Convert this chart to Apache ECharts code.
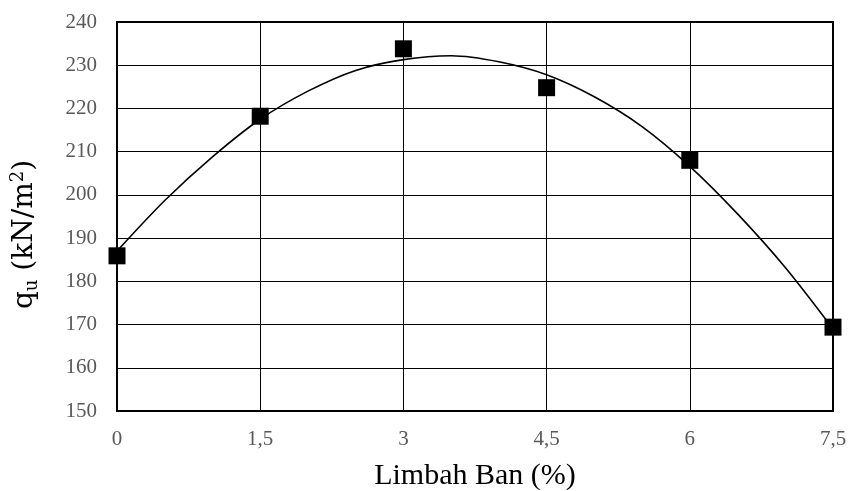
<!DOCTYPE html>
<html>
<head>
<meta charset="utf-8">
<script src="https://cdn.jsdelivr.net/npm/echarts@6/dist/echarts.min.js"></script>
<style>html,body{margin:0;padding:0;background:#fff}#c{width:848px;height:491px}</style>
</head>
<body>
<div id="c"></div>
<script>
// Measured points
const xValues = [0, 1.5, 3, 4.5, 6, 7.5];
const qValues = [185.9, 218.2, 233.8, 224.8, 208.0, 169.4];
// Trendline
const trendX = [0, 0.5, 1, 1.5, 2, 2.5, 3, 3.5, 4, 4.5, 5, 5.5, 6, 6.5, 7, 7.5];
const trendY = [187.0, 198.7, 208.8, 217.5, 224.0, 228.8, 231.3, 232.2, 230.8, 227.8, 222.7, 215.8, 206.6, 195.6, 183.2, 169.0];
const xTicks = ['0', '1,5', '3', '4,5', '6', '7,5'];
const yTicks = [150, 160, 170, 180, 190, 200, 210, 220, 230, 240];

const font = '"Liberation Serif", "DejaVu Serif", serif';
const titleFont = '"DejaVu Serif", serif';
const chart = echarts.init(document.getElementById('c'));
chart.setOption({
  animation: false,
  grid: { left: 117, right: 15, top: 22, bottom: 80, show: true, borderColor: '#000', borderWidth: 2, outerBoundsMode: 'none', containLabel: false },
  xAxis: {
    type: 'value', min: 0, max: 7.5, interval: 1.5,
    axisLine: { show: true, lineStyle: { color: '#000', width: 2 } },
    axisTick: { show: false },
    splitLine: { show: true, lineStyle: { color: '#000', width: 1 } },
    axisLabel: { color: '#595959', fontFamily: font, fontSize: 21, margin: 18,
      formatter: v => xTicks[Math.round(v / 1.5)] },
    name: 'Limbah Ban (%)', nameLocation: 'middle', nameGap: 50,
    nameTextStyle: { color: '#000', fontFamily: font, fontSize: 30 }
  },
  yAxis: {
    type: 'value', min: 150, max: 240, interval: 10,
    axisLine: { show: true, lineStyle: { color: '#000', width: 2 } },
    axisTick: { show: false },
    splitLine: { show: true, lineStyle: { color: '#000', width: 1 } },
    axisLabel: { color: '#595959', fontFamily: font, fontSize: 21, margin: 20,
      formatter: v => yTicks.indexOf(v) >= 0 ? String(v) : '' },
    name: '{n|q}{sub|u}{n| (kN/m}{sup|2}{n|)}', nameLocation: 'middle', nameGap: 72,
    nameTextStyle: {
      color: '#000', fontFamily: titleFont, fontSize: 28, padding: [0, 36, 0, 0],
      rich: {
        n: { fontFamily: titleFont, fontSize: 28, color: '#000', lineHeight: 40, verticalAlign: 'middle' },
        sub: { fontFamily: titleFont, fontSize: 18, color: '#000', lineHeight: 40, verticalAlign: 'bottom', padding: [0, 0, 4, 0] },
        sup: { fontFamily: titleFont, fontSize: 18, color: '#000', lineHeight: 40, verticalAlign: 'top', padding: [4, 0, 0, 0] }
      }
    }
  },
  series: [
    {
      type: 'line', data: trendX.map((x, i) => [x, trendY[i]]),
      smooth: 0.3, showSymbol: false, symbol: 'none',
      lineStyle: { color: '#000', width: 1.6 }, z: 2
    },
    {
      type: 'scatter', data: xValues.map((x, i) => [x, qValues[i]]),
      symbol: 'rect', symbolSize: 17,
      itemStyle: { color: '#000', opacity: 1 }, z: 3
    }
  ]
});
</script>
</body>
</html>
